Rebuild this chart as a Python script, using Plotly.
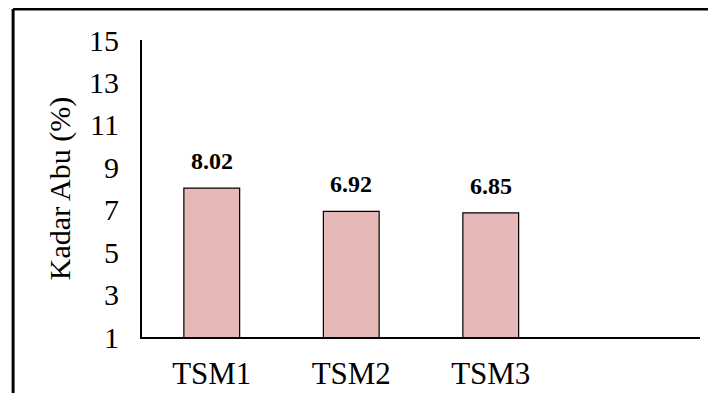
import plotly.graph_objects as go

categories = ["TSM1", "TSM2", "TSM3", " "]
values = [8.02, 6.92, 6.85, None]
value_labels = ["8.02", "6.92", "6.85", ""]
y_ticks = [1, 3, 5, 7, 9, 11, 13, 15]

FONT = "Liberation Serif, Times New Roman, serif"

fig = go.Figure()
fig.add_trace(go.Bar(
    x=categories, y=values,
    width=0.4,
    marker=dict(color="#E6B8B7", line=dict(color="#000000", width=1.2)),
    hoverinfo="skip",
))

for c, v, t in zip(categories, values, value_labels):
    if v is None:
        continue
    fig.add_annotation(x=c, y=v, text="<b>" + t + "</b>", showarrow=False,
                       yanchor="bottom", yshift=12,
                       font=dict(family=FONT, size=24, color="#000000"))

# page body has an 8px margin, so the figure is offset by 8px; size kept inside the window
fig.update_layout(
    width=700, height=385,
    margin=dict(l=134, r=8, t=32, b=56),
    paper_bgcolor="white", plot_bgcolor="white",
    font=dict(family=FONT, color="#000000"),
    showlegend=False,
    bargap=0.6,
)
fig.update_xaxes(
    type="category", automargin=False,
    categoryorder="array", categoryarray=categories,
    showline=True, linecolor="#000000", linewidth=2,
    ticks="", showgrid=False, zeroline=False,
    tickfont=dict(family=FONT, size=31, color="#000000"),
    ticklabelstandoff=8,
)
fig.update_yaxes(
    range=[1, 15], tickvals=y_ticks, automargin=False,
    showline=True, linecolor="#000000", linewidth=2,
    ticks="", showgrid=False, zeroline=False,
    tickfont=dict(family=FONT, size=30, color="#000000"),
    ticklabelstandoff=15,
    title=dict(text="Kadar Abu (%)", font=dict(family=FONT, size=30, color="#000000"), standoff=10),
)

# outer chart border (left and top edges visible in the reference)
fig.add_shape(type="line", xref="paper", yref="paper", x0=-0.231, x1=1.1, y0=1.104, y1=1.104,
              line=dict(color="#000000", width=3))
fig.add_shape(type="line", xref="paper", yref="paper", x0=-0.231, x1=-0.231, y0=-0.3, y1=1.104,
              line=dict(color="#000000", width=3))

fig.write_html("out.html")
